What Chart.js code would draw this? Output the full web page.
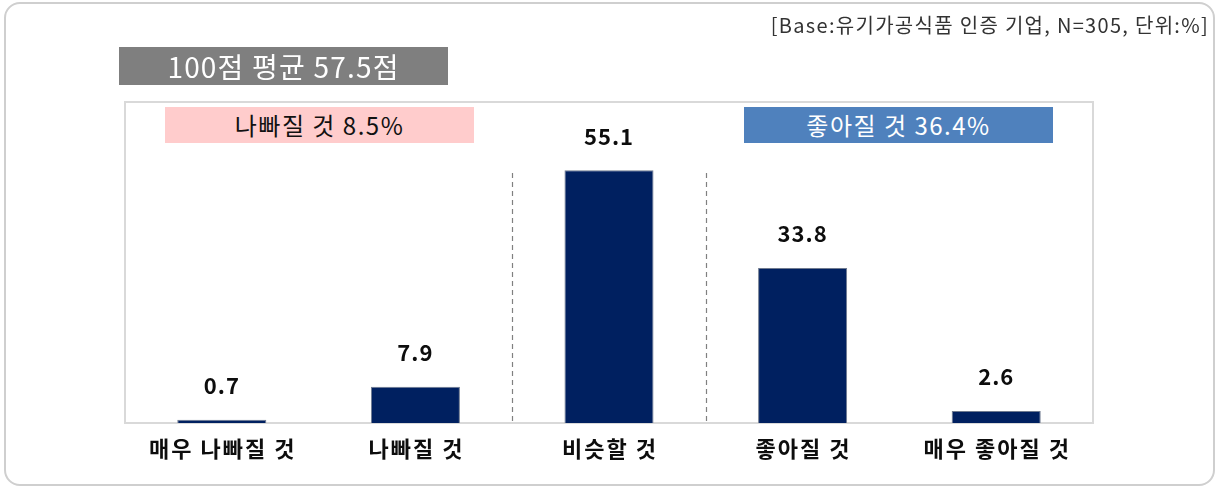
<!DOCTYPE html>
<html>
<head>
<meta charset="utf-8">
<script src="https://cdn.jsdelivr.net/npm/chart.js@4.4.1/dist/chart.umd.min.js"></script>
<style>
    html, body { margin: 0; padding: 0; background: #fff; }
    body { width: 1215px; height: 486px; position: relative; overflow: hidden; font-family: 'Noto Sans CJK KR', sans-serif; }
    .frame { position: absolute; left: 4px; top: 2px; width: 1207px; height: 480px; border: 2px solid #cfcfcf; border-radius: 16px; }
    .wrap { position: absolute; left: 0; top: 0; width: 1215px; height: 486px; }
    .note { position: absolute; right: 6px; top: 10px; font-size: 20px; letter-spacing: 1.3px; color: #333; white-space: nowrap; }
    .box { position: absolute; text-align: center; white-space: nowrap; }
    .avg { left: 119px; top: 47px; width: 329px; height: 38px; line-height: 38px; background: #7f7f7f; color: #fff; font-size: 28px; letter-spacing: 1.2px; }
    .bad { left: 165px; top: 107px; width: 309px; height: 36px; line-height: 36px; background: #ffcccc; color: #111; font-size: 24px; letter-spacing: 1.5px; }
    .good { left: 744px; top: 107px; width: 309px; height: 36px; line-height: 36px; background: #4f81bd; color: #fff; font-size: 24px; letter-spacing: 1.5px; }
</style>
</head>
<body>
<div class="frame"></div>
<div class="wrap"><canvas id="chart"></canvas></div>
<div class="note">[Base:유기가공식품 인증 기업, N=305, 단위:%]</div>
<div class="box avg">100점 평균 57.5점</div>
<div class="box bad">나빠질 것 8.5%</div>
<div class="box good">좋아질 것 36.4%</div>
<script>
const categories = ['매우 나빠질 것', '나빠질 것', '비슷할 것', '좋아질 것', '매우 좋아질 것'];
const values = [0.7, 7.9, 55.1, 33.8, 2.6];
const yMax = 70;
// dashed separators sit between these category indexes
const separators = [[1, 2], [2, 3]];

const FONT = "'Noto Sans CJK KR', sans-serif";

const decorPlugin = {
    id: 'decor',
    beforeDatasetsDraw: function(chart) {
        const ctx = chart.ctx;
        const area = chart.chartArea;
        const x = chart.scales.x;
        ctx.save();
        // plot box
        ctx.strokeStyle = '#d9d9d9';
        ctx.lineWidth = 2;
        ctx.strokeRect(area.left, area.top, area.right - area.left, area.bottom - area.top);
        // dashed separators
        ctx.strokeStyle = '#808080';
        ctx.lineWidth = 1.2;
        ctx.setLineDash([5, 4]);
        separators.forEach(function(pair) {
            const px = Math.round((x.getPixelForValue(pair[0]) + x.getPixelForValue(pair[1])) / 2) + 0.5;
            ctx.beginPath();
            ctx.moveTo(px, area.top + 71);
            ctx.lineTo(px, area.bottom);
            ctx.stroke();
        });
        ctx.restore();
    },
    afterDatasetsDraw: function(chart) {
        const ctx = chart.ctx;
        const meta = chart.getDatasetMeta(0);
        const x = chart.scales.x;
        ctx.save();
        ctx.fillStyle = '#0d0d0d';
        ctx.textAlign = 'center';
        ctx.textBaseline = 'middle';
        ctx.letterSpacing = '1px';
        ctx.font = 'bold 22px ' + FONT;
        meta.data.forEach(function(bar, i) {
            ctx.fillText(values[i].toFixed(1), bar.x, bar.y - 34);
        });
        // category labels (drawn here so letter spacing can match)
        ctx.letterSpacing = '2px';
        ctx.font = 'bold 22px ' + FONT;
        categories.forEach(function(label, i) {
            ctx.fillText(label, x.getPixelForValue(i) + 1, chart.chartArea.bottom + 26);
        });
        ctx.restore();
    }
};

new Chart(document.getElementById('chart').getContext('2d'), {
    type: 'bar',
    data: {
        labels: categories,
        datasets: [{
            data: values,
            backgroundColor: '#002060',
            borderColor: '#6f7a8f',
            borderWidth: 1,
            barPercentage: 0.46,
            categoryPercentage: 1.0,
            minBarLength: 3
        }]
    },
    options: {
        responsive: true,
        maintainAspectRatio: false,
        animation: false,
        layout: { padding: { left: 125, right: 122, top: 102, bottom: 0 } },
        plugins: {
            legend: { display: false },
            tooltip: { enabled: false }
        },
        scales: {
            x: {
                grid: { display: false, drawTicks: false },
                border: { color: '#a6a6a6', width: 2 },
                ticks: { display: false },
                afterFit: function(scale) { scale.height = 63; }
            },
            y: {
                display: false,
                min: 0,
                max: yMax
            }
        }
    },
    plugins: [decorPlugin]
});
</script>
</body>
</html>
